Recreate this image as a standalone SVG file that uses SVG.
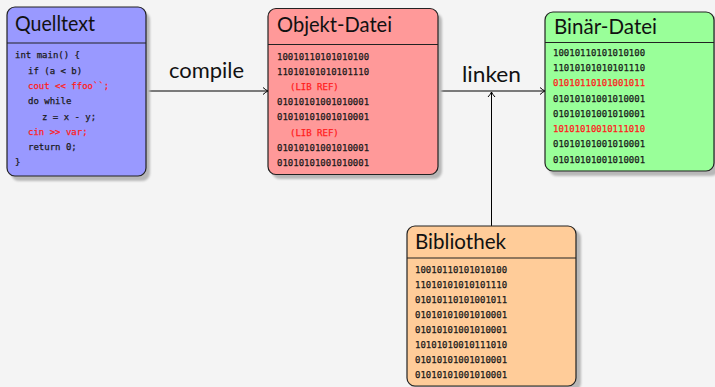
<svg xmlns="http://www.w3.org/2000/svg" width="715" height="387" viewBox="0 0 715 387">
<defs>
<filter id="sh" x="-10%" y="-10%" width="130%" height="130%"><feGaussianBlur stdDeviation="1.2"/></filter>
<marker id="arr" markerWidth="10" markerHeight="10" refX="7" refY="5" orient="auto" markerUnits="userSpaceOnUse"><path d="M2,1.5 Q5,4.2 7,5 Q5,5.8 2,8.5" fill="none" stroke="#000" stroke-width="1"/></marker>
<style>
.box{stroke:#222;stroke-width:1.2}
.shadow{fill:#b8b8b8;filter:url(#sh)}
.div{stroke:#222;stroke-width:1.2}
.title{font-family:Lato,"Open Sans",sans-serif;font-size:21px;fill:#111}
.lbl{font-family:Lato,"Open Sans",sans-serif;font-size:21px;fill:#111}
.code{font-family:"DejaVu Sans Mono",monospace;font-size:9px;fill:#1a1a1a;stroke:#1a1a1a;stroke-width:0.25}
.red{fill:#ff2020;stroke:#ff2020}
.conn{stroke:#000;stroke-width:1;fill:none}
</style>
</defs>
<rect width="715" height="387" fill="#f4f4f4"/>
<g id="connectors">
<line class="conn" x1="146" y1="91" x2="268" y2="91" marker-end="url(#arr)"/>
<line class="conn" x1="438" y1="91" x2="545" y2="91" marker-end="url(#arr)"/>
<line class="conn" x1="491.5" y1="226" x2="491.5" y2="92" marker-end="url(#arr)"/>
<text class="lbl" x="169" y="78" textLength="75" lengthAdjust="spacingAndGlyphs">compile</text>
<text class="lbl" x="462" y="82" textLength="59" lengthAdjust="spacingAndGlyphs">linken</text>
</g>
<g id="quelltext">
<rect class="shadow" x="11" y="12" width="139" height="169" rx="8"/>
<rect class="box" x="7" y="7" width="139" height="169" rx="8" fill="#9999ff"/>
<line class="div" x1="7" y1="43" x2="146" y2="43"/>
<text class="title" x="15" y="31" textLength="80" lengthAdjust="spacingAndGlyphs">Quelltext</text>
<text class="code" x="15" y="58">int main() {</text>
<text class="code" x="28" y="74">if (a &lt; b)</text>
<text class="code red" x="28" y="89">cout &lt;&lt; ffoo``;</text>
<text class="code" x="28" y="104">do while</text>
<text class="code" x="42" y="120">z = x - y;</text>
<text class="code red" x="28" y="135">cin &gt;&gt; var;</text>
<text class="code" x="28" y="150">return 0;</text>
<text class="code" x="15" y="165">}</text>
</g>
<g id="objekt">
<rect class="shadow" x="272" y="13" width="170" height="166" rx="8"/>
<rect class="box" x="268" y="8.5" width="170" height="166" rx="8" fill="#ff9999"/>
<line class="div" x1="268" y1="44.5" x2="438" y2="44.5"/>
<text class="title" x="277" y="32" textLength="115" lengthAdjust="spacingAndGlyphs">Objekt-Datei</text>
<text class="code" x="277" y="60">10010110101010100</text>
<text class="code" x="277" y="75">11010101010101110</text>
<text class="code red" x="290" y="90">(LIB REF)</text>
<text class="code" x="277" y="105">01010101001010001</text>
<text class="code" x="277" y="120">01010101001010001</text>
<text class="code red" x="290" y="136">(LIB REF)</text>
<text class="code" x="277" y="151">01010101001010001</text>
<text class="code" x="277" y="166">01010101001010001</text>
</g>
<g id="binaer">
<rect class="shadow" x="549" y="16" width="170" height="160" rx="8"/>
<rect class="box" x="545" y="12" width="169" height="159" rx="8" fill="#99ff99"/>
<line class="div" x1="545" y1="42.5" x2="714" y2="42.5"/>
<text class="title" x="554" y="34" textLength="103" lengthAdjust="spacingAndGlyphs">Binär-Datei</text>
<text class="code" x="553" y="56">10010110101010100</text>
<text class="code" x="553" y="71">11010101010101110</text>
<text class="code red" x="553" y="86">01010110101001011</text>
<text class="code" x="553" y="102">01010101001010001</text>
<text class="code" x="553" y="117">01010101001010001</text>
<text class="code red" x="553" y="132">10101010010111010</text>
<text class="code" x="553" y="147">01010101001010001</text>
<text class="code" x="553" y="163">01010101001010001</text>
</g>
<g id="bibliothek">
<rect class="shadow" x="411" y="230" width="170" height="161" rx="8"/>
<rect class="box" x="407" y="226" width="169" height="160" rx="8" fill="#ffcc99"/>
<line class="div" x1="407" y1="258" x2="576" y2="258"/>
<text class="title" x="415" y="249" textLength="91" lengthAdjust="spacingAndGlyphs">Bibliothek</text>
<text class="code" x="415" y="273">10010110101010100</text>
<text class="code" x="415" y="288">11010101010101110</text>
<text class="code" x="415" y="303">01010110101001011</text>
<text class="code" x="415" y="318">01010101001010001</text>
<text class="code" x="415" y="333">01010101001010001</text>
<text class="code" x="415" y="348">10101010010111010</text>
<text class="code" x="415" y="363">01010101001010001</text>
<text class="code" x="415" y="378">01010101001010001</text>
</g>
</svg>
